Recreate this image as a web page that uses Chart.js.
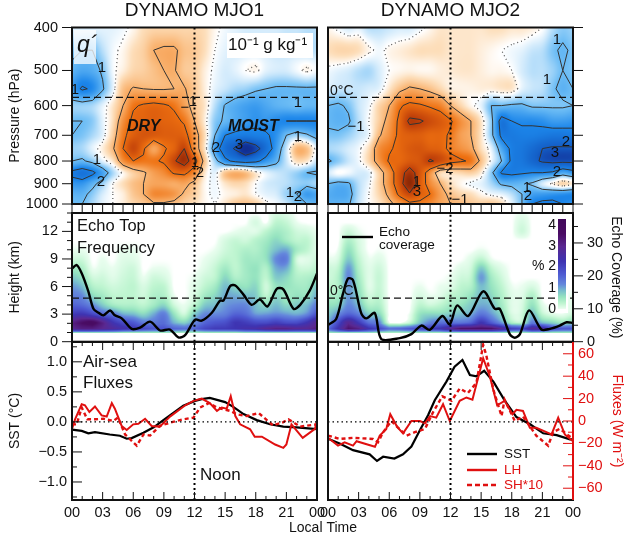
<!DOCTYPE html>
<html><head><meta charset="utf-8">
<style>html,body{margin:0;padding:0;background:#fff;width:627px;height:542px;overflow:hidden}canvas{position:absolute;left:0;top:0}</style>
<script src="https://cdn.jsdelivr.net/npm/chart.js@4"></script></head><body>
<canvas id="c1" width="627" height="542"></canvas><canvas id="c2" width="627" height="542"></canvas>
<canvas id="c3" width="627" height="542"></canvas><canvas id="c4" width="627" height="542"></canvas>
<canvas id="c5" width="627" height="542"></canvas><canvas id="c6" width="627" height="542"></canvas>
<script>
// ---------- categories / ticks ----------
const hours=[0,1,2,3,4,5,6,7,8,9,10,11,12,13,14,15,16,17,18,19,20,21,22,23,24];
const hourTicks=[0,3,6,9,12,15,18,21,24];
const pressureLevels=[400,450,500,550,600,650,700,750,800,850,900,950,1000];
const pressureTicks=[400,500,600,700,800,900,1000];
const heightLevels=[0,0.9,1.0,1.4,2,3,4,5,6,7,8,9,10,11,12,13,14];
const heightTicks=[0,3,6,9,12];
const coverageTicks=[0,10,20,30];
const sstTicks=[-1,-0.5,0,0.5,1];
const fluxTicks=[-60,-40,-20,0,20,40,60];
const freezingPressure=[575,575];
const freezingHeight=[4.75,4.75];
const noonHour=[12,12];
const ends=[0,24];
// ---------- q' (10^-1 g/kg), rows = pressureLevels, cols = hours ----------
const qMjo1=[
[.2,.2,.2,.2,.2,.1,-.1,-.4,-.5,-.5,-.5,-.5,-.5,-.4,-.1,.1,.2,.3,.3,.3,.3,.4,.4,.5,.5],
[.8,1.0,1.0,.5,.1,-.1,-.4,-.6,-1.0,-1.1,-1.1,-.8,-.7,-.4,0,.2,.3,.3,.3,.3,.4,.4,.4,.5,.5],
[1.2,1.4,1.3,.9,.1,-.2,-.5,-.6,-.8,-1.0,-1.05,-.7,-.6,-.2,.1,.3,.2,0,-.1,.2,.3,.3,.1,-.1,.1],
[1.6,2.1,1.9,1.1,.2,-.8,-1.05,-1.0,-.95,-.95,-1.0,-1.05,-.7,-.2,.2,.4,.6,.7,.9,1.0,1.1,1.1,1.1,1.1,1.1],
[.7,.7,.6,.2,-.3,-1.0,-1.9,-2.1,-2.2,-2.1,-1.9,-1.3,-.7,-.3,.5,1.05,1.3,1.5,1.6,1.4,1.2,1.1,1.0,1.1,1.1],
[1.0,1.0,.8,.2,-.4,-1.5,-2.2,-2.3,-2.4,-2.3,-2.2,-1.9,-1.0,-.2,.8,1.1,1.4,1.6,1.8,1.7,1.9,2.0,2.0,2.0,2.0],
[1.0,.9,.6,.2,-.6,-1.8,-2.4,-2.6,-2.5,-2.4,-2.4,-2.3,-1.4,-.4,1.0,2.0,2.2,2.3,2.2,2.1,1.8,1.0,.7,.9,1.3],
[.7,.6,.2,-.2,-.9,-2.0,-2.9,-2.1,-1.2,-1.9,-2.3,-3.0,-1.5,-.3,1.5,2.6,3.1,3.7,3.3,2.6,1.6,.4,-.9,-.8,.2],
[1.0,1.1,.8,.2,-.3,-1.5,-2.0,-1.9,-1.9,-2.1,-2.9,-3.5,-2.4,-.7,.7,1.8,2.2,2.4,2.2,1.7,1.2,.4,-.4,-.3,.4],
[2.2,2.5,2.2,1.5,.6,-.1,-.6,-.9,-1.3,-1.6,-2.1,-2.2,-1.6,-.3,.2,-.7,-1.0,-.8,-.2,.2,.4,.5,.7,1.0,1.1],
[1.7,1.7,1.2,.7,0,-.4,-.8,-1.0,-1.2,-1.2,-1.1,-1.2,-.8,-.1,.1,-.3,-.5,-.4,0,.3,.4,.5,.7,.8,.6],
[1.2,1.2,.8,.3,0,-.2,-.7,-1.0,-1.6,-1.6,-1.4,-.9,-.6,-.1,.1,-.1,-.2,-.3,0,.2,.3,.7,1.0,1.6,1.4],
[1.0,1.0,.6,.2,0,-.2,-.5,-.7,-.9,-.9,-.8,-.6,-.4,-.1,0,-.3,-.7,-.8,-.6,-.1,.1,.4,.9,1.0,1.2]];
const qMjo2=[
[-.1,.1,.3,.2,.5,.5,.4,.3,.3,.1,-.1,-.3,-.3,-.3,-.3,-.3,-.4,-.4,-.3,-.3,-.2,0,.5,.8,.7],
[-.4,-.5,-.5,-.4,-.1,.1,-.1,-.2,-.3,-.4,-.4,-.4,-.3,-.3,-.3,-.2,-.1,0,.1,.2,.4,.5,.9,1.1,.9],
[.1,.2,.3,.5,.6,.3,0,-.1,-.15,-.1,-.1,-.2,-.25,-.3,-.3,-.2,-.1,-.1,0,.3,.5,.5,.7,1.0,.9],
[.3,.4,.4,.4,.3,.2,-.3,-.8,-1.1,-1.0,-.8,-.5,-.2,-.15,-.15,-.2,-.2,-.3,-.3,.2,.4,.5,.9,1.2,1.0],
[1.0,1.1,.9,.4,.1,-.5,-1.0,-1.9,-2.2,-2.1,-1.9,-1.7,-1.0,-.5,-.1,.2,1.0,1.0,1.1,1.1,.9,.9,.9,.9,1.0],
[1.1,1.2,1.1,.5,0,-.6,-1.3,-2.2,-3.2,-3.1,-2.8,-2.5,-2.1,-1.5,-1.0,-.3,.8,2.4,2.0,1.9,1.9,1.8,1.6,1.6,1.7],
[.9,.9,.7,.4,.1,-.9,-1.5,-2.2,-2.4,-2.4,-2.2,-2.2,-1.9,-1.3,-1.0,-.3,.8,2.2,2.3,2.2,2.2,2.3,2.4,2.4,2.3],
[.6,.5,.3,.1,-.4,-1.5,-1.9,-2.2,-2.5,-2.6,-2.4,-2.3,-1.8,-1.5,-1.2,-.4,.2,1.4,2.2,2.4,2.7,3.0,3.1,3.1,3.1],
[1.1,.8,.4,.1,-.5,-1.4,-2.1,-2.2,-2.5,-2.6,-3.1,-2.8,-2.3,-2.1,-1.9,-.8,.1,1.0,2.2,2.4,2.8,3.1,3.2,3.2,3.2],
[.3,0,.1,.3,.2,-.6,-1.5,-2.6,-3.4,-2.6,-1.5,-.5,-.4,-.5,-.6,-.2,.8,2.1,2.2,2.1,2.0,2.0,1.9,1.4,1.7],
[1.0,1.2,1.1,.5,.1,-.6,-1.5,-2.6,-3.8,-2.5,-1.6,-1.0,-.4,-.1,.1,.2,.6,1.1,1.2,1.1,.9,.3,-.1,-.5,-.2],
[1.3,1.4,1.3,.5,0,-.5,-1.2,-2.2,-2.9,-2.4,-2.0,-1.3,-.8,-.5,-.4,-.1,.1,.2,.5,1.0,1.5,1.6,1.7,1.8,1.9],
[1.2,1.2,1.1,.4,0,-.3,-.8,-1.3,-1.8,-1.8,-1.6,-1.2,-1.0,-.9,-.7,-.6,-.7,-.4,.2,1.0,2.0,2.2,2.2,2.0,1.8]];
// ---------- echo top frequency (%), rows = heightLevels ----------
const echoMjo1=[
[0,0,0,0,0,0,0,0,0,0,0,0,0,0,0,0,0,0,0,0,0,0,0,0,0],
[0,0,0,0,0,0,0,0,0,0,0,0,0,0,0,0,0,0,0,0,0,0,0,0,0],
[.7,.7,.7,.7,.7,.6,.6,.6,.6,.6,.6,.5,.5,.6,.6,.6,.6,.7,.7,.7,.7,.7,.7,.7,.7],
[3.0,3.2,3.2,3.0,2.8,2.5,2.3,2.0,1.8,1.8,1.6,1.5,1.6,2.0,2.2,2.2,2.3,2.5,2.6,3.0,3.2,3.2,3.0,3.0,3.2],
[3.2,3.6,3.8,3.2,2.4,2.0,1.8,1.4,1.4,1.5,1.0,.8,1.2,1.6,1.8,1.9,2.3,2.2,2.0,2.0,2.2,2.0,2.0,2.4,3.0],
[2.2,2.3,2.0,1.6,1.4,1.0,.9,.7,1.0,1.3,.6,.2,.8,1.2,1.2,1.3,1.6,1.5,1.1,1.1,1.2,1.1,1.0,1.2,1.8],
[1.6,1.5,1.2,.8,.5,.4,.4,.3,.5,.7,.2,.05,.3,.8,.9,1.1,1.2,1.2,.9,.7,.9,.7,.8,.9,1.3],
[1.3,1.2,.7,.5,.3,.3,.3,.2,.4,.4,.05,0,.15,.5,.7,1.0,1.0,.9,.8,.3,.7,.5,.6,.6,1.0],
[1.1,.9,.4,.3,.2,.25,.3,.15,.3,.3,0,0,.1,.3,.5,.9,.7,.6,.7,.2,.6,.6,.5,.5,.8],
[.8,.6,.2,.2,.1,.2,.25,.05,.2,.15,0,0,.05,.2,.3,.7,.4,.5,.6,.3,.8,.7,.4,.4,.5],
[.5,.4,.05,.1,.05,.15,.2,0,.05,.05,0,0,0,.1,.25,.5,.3,.5,.6,.4,1.0,1.0,.3,.2,.3],
[.2,.2,0,.05,0,.1,.1,0,0,0,0,0,0,.05,.15,.3,.3,.5,.5,.6,1.2,1.3,.2,.1,.2],
[.05,.05,0,0,0,.05,.05,0,0,0,0,0,0,0,.05,.2,.3,.4,.4,.6,.9,1.0,.5,.3,.1],
[0,0,0,0,0,0,0,0,0,0,0,0,0,0,0,.15,.25,.2,.35,.5,.7,.5,.3,.3,.1],
[0,0,0,0,0,0,0,0,0,0,0,0,0,0,0,0,.05,.1,.1,.3,.5,.4,.2,.15,.05],
[0,0,0,0,0,0,0,0,0,0,0,0,0,0,0,0,0,0,.15,0,.3,.25,.05,0,0],
[0,0,0,0,0,0,0,0,0,0,0,0,0,0,0,0,0,0,0,0,.15,.1,0,0,0]];
const echoMjo2=[
[0,0,0,0,0,0,0,0,0,0,0,0,0,0,0,0,0,0,0,0,0,0,0,0,0],
[0,0,0,0,0,0,0,0,0,0,0,0,0,0,0,0,0,0,0,0,0,0,0,0,0],
[.6,.7,.7,.7,.7,.6,.5,.5,.6,.6,.6,.6,.7,.7,.7,.7,.7,.7,.6,.6,.7,.7,.6,.6,.6],
[1.5,2.4,3.5,3.2,2.4,2.0,1.5,1.6,1.8,2.0,2.2,2.4,3.0,3.6,3.6,3.6,3.6,3.0,2.2,2.0,3.0,2.8,2.0,1.8,1.8],
[1.0,2.0,3.0,2.3,1.5,1.3,.1,.05,.3,.9,1.3,1.5,1.5,1.5,1.7,2.4,1.8,1.2,.5,.4,1.4,1.0,.8,.6,.8],
[.8,1.2,1.6,1.3,.8,.7,0,0,.05,.6,.7,.7,.8,.9,1.0,1.4,1.1,.7,.15,.2,.9,.3,.1,.05,.2],
[.6,.7,1.2,.9,.4,.4,0,0,0,.3,.2,.3,.5,.6,.8,1.0,.9,.5,.1,.15,.6,.1,0,0,.1],
[.4,.5,1.1,.7,.2,.3,0,0,0,.15,.05,.1,.3,.4,.6,.9,.7,.4,.1,.1,.4,0,0,0,.05],
[.3,.4,1.1,.6,.1,.25,0,0,0,.05,0,.05,.1,.3,.4,.9,.6,.3,.05,.05,.15,0,0,0,0],
[.2,.4,1.2,.5,.1,.25,0,0,0,0,0,0,.05,.2,.3,1.1,.5,.2,0,0,0,0,0,0,0],
[.2,.3,1.1,.4,.1,.2,0,0,0,0,0,0,0,.1,.2,.8,.3,.1,0,0,0,0,0,0,0],
[.05,.15,.8,.3,.05,.1,0,0,0,0,0,0,0,0,.1,.3,.05,0,0,0,0,0,0,0,0],
[0,.05,.6,.2,0,.02,0,0,0,0,0,0,0,0,0,.05,0,0,0,0,0,0,0,0,0],
[0,0,.4,.15,0,0,0,0,0,0,0,0,0,0,0,0,0,0,0,0,0,0,0,0,0],
[0,0,.2,.05,0,0,0,0,0,0,0,0,0,0,0,0,0,0,0,.2,0,0,0,0,0],
[0,0,0,0,0,0,0,0,0,0,0,0,0,0,0,0,0,0,0,.15,0,0,0,0,0],
[0,0,0,0,0,0,0,0,0,0,0,0,0,0,0,0,0,0,0,.05,0,0,0,0,0]];
// ---------- echo coverage (%) ----------
const covHours1=[0,.46,.95,1.6,2.1,2.6,3.07,3.73,4.2,4.87,5.85,6.67,7.65,8.63,9.6,10.42,11.08,12.06,12.7,13.7,14.5,14.84,15.5,16,16.8,17.6,18.4,19.15,20.07,20.7,21.7,22.35,23.3,24];
const covValues1=[22.2,23.3,20.8,15.3,10,8.8,8,9.5,8,7.1,3.9,4.3,6.1,3.4,3.7,1.3,2,6.7,6.4,8.8,12.5,12.5,16.9,17.1,14.3,11.2,12.8,10.7,16.1,15.9,10,11.2,15.6,20.7];
const covHours2=[0,.8,1.47,1.96,2.45,3.27,3.76,4.58,5.23,7.03,8.17,9.15,9.97,11.2,11.93,12.65,13.73,15.2,16.34,16.83,17.8,18.3,18.8,19.7,20.9,21.73,22.7,23.37,24];
const covValues2=[5.1,6.9,14.6,19.2,18.7,8.5,7.1,8.7,.8,1.1,2.3,4.9,3.6,7.8,5.3,11,7.8,15.3,10,10,2.3,1.2,2.3,9.5,3.7,3.9,4.9,5.9,5.7];
// ---------- SST (degC) and fluxes (W m-2) ----------
const sstHours1=[0,.95,1.6,2.25,3.7,4.7,5.36,5.85,7,8,8.95,9.93,10.9,12.06,12.7,13.5,15,15.8,16.8,18.1,19.4,20.7,22,24];
const sstValues1=[-.13,-.15,-.19,-.17,-.21,-.23,-.28,-.27,-.18,-.09,.03,.15,.27,.35,.38,.40,.33,.25,.13,.03,-.04,-.08,-.09,-.12];
const lhHours1=[0,.3,.95,1.27,1.7,2.25,2.9,3.4,3.9,4.2,4.87,5.36,6,6.5,7.16,7.8,8.6,9.6,11.1,11.9,12.7,13.5,14.2,14.67,15.16,15.55,16,16.47,17.45,17.9,18.6,19.9,20.7,21,21.5,22.6,23.8,24];
const lhValues1=[-7,1.5,15,14,8,13,5,4,16,11,-4.5,-8,-3,-2.4,2,-4.4,-5,3.9,14,18,20,16,9,12,11,22,4.4,-3,-7.4,-14,-14,-21,-24,-21,-3,-15,-7,0];
const shHours1=[0,.46,.95,1.5,2.25,3.07,4.05,4.5,5.2,6.34,7,7.65,8.6,9.6,10.9,11.9,12.55,13.4,14.2,15.5,16.15,17.1,18.3,19.7,20.7,21.2,22.35,24];
const shValues1=[-3,-3,12,1.5,1.5,2,0,3,-12,-22,-12,-13,-4.4,-1.5,1.5,3,12,16,12,9,6,4.4,7,-4,-1,1.5,-5,-3];
const sstHours2=[0,1.14,2.45,4.08,4.8,5.4,6.5,7.35,8.17,9,9.8,10.46,11.6,12.4,13.17,13.9,14.54,15.3,16.2,17.3,18.46,19.8,21.08,22.4,23.7,24];
const sstValues2=[-.28,-.36,-.47,-.54,-.65,-.58,-.61,-.54,-.41,-.14,.11,.36,.67,.92,1.03,.78,.76,.85,.67,.36,.08,-.04,-.19,-.22,-.29,-.29];
const lhHours2=[0,.98,1.63,2.45,2.8,4.6,5.07,5.7,6.1,6.76,7.35,8.17,9,9.5,10,10.6,11.27,11.93,12.9,13.56,14.15,15.2,15.85,16.57,17.3,18.07,18.46,19.1,19.77,20.4,21.4,21.9,22.55,23.2,24];
const lhValues2=[-15,-22,-19,-22,-18,-23,-13,-7.4,6,-5,-11,0,0,-2,4.4,3,15,0,18,21,19,56,40,14,18,6,10,9,-6,-6,-10,-12,3,-12,-18];
const shHours2=[0,1.14,2.45,4.4,4.9,5.4,6.2,6.86,7.7,8.5,9.5,10.3,11.2,12.1,12.9,13.7,14.54,15.2,15.5,16.2,17,17.3,18.3,19.1,20.4,21.57,22.05,22.7,24];
const shValues2=[-13,-16,-15,-16,-19,-10,0,-6,-13,-10,-7,8,22,18,29,25,34,68,59,28,4.4,19,0,4,-13,-22,-10,-7,-16];

const FONT='"Liberation Sans",Arial,sans-serif';
const W=627,H=542;
const COLS={L:[72,317],R:[328,573]};
const ROWS={a:[27.5,204],b:[213,341.7],c:[342,500]};

const qStops=[[-4,[128,36,4]],[-3.5,[160,48,8]],[-3,[196,68,10]],[-2,[238,112,16]],[-1,[249,178,110]],[-.4,[253,222,186]],[0,[255,255,255]],[.4,[200,230,251]],[1,[109,189,245]],[2,[28,134,234]],[3,[20,96,200]],[3.5,[18,51,154]],[4,[16,40,128]]];
const echoStops=[[0,[255,255,255]],[.05,[232,253,238]],[.3,[190,245,208]],[.6,[150,228,192]],[.9,[120,190,205]],[1.2,[100,135,220]],[1.7,[78,90,210]],[2.3,[62,52,178]],[3,[90,40,145]],[3.6,[74,12,100]],[4.5,[64,8,88]]];
function colorAt(stops,v){
  if(v<=stops[0][0])return stops[0][1];
  for(let i=1;i<stops.length;i++){if(v<=stops[i][0]){const a=stops[i-1],b=stops[i],f=(v-a[0])/(b[0]-a[0]);
    return [a[1][0]+(b[1][0]-a[1][0])*f,a[1][1]+(b[1][1]-a[1][1])*f,a[1][2]+(b[1][2]-a[1][2])*f];}}
  return stops[stops.length-1][1];
}
function cr(p0,p1,p2,p3,t){return .5*((2*p1)+(-p0+p2)*t+(2*p0-5*p1+4*p2-p3)*t*t+(-p0+3*p1-3*p2+p3)*t*t*t);}
function sample(g,ri,ci,smooth){
  const R=g.length-1,C=g[0].length-1;
  const r0=Math.max(0,Math.min(R-1,Math.floor(ri))),c0=Math.max(0,Math.min(C-1,Math.floor(ci)));
  const tr=ri-r0,tc=ci-c0;
  if(!smooth){return (g[r0][c0]*(1-tc)+g[r0][c0+1]*tc)*(1-tr)+(g[r0+1][c0]*(1-tc)+g[r0+1][c0+1]*tc)*tr;}
  const row=i=>{const r=g[Math.max(0,Math.min(R,i))];const at=j=>r[Math.max(0,Math.min(C,j))];return cr(at(c0-1),at(c0),at(c0+1),at(c0+2),tc);};
  return cr(row(r0-1),row(r0),row(r0+1),row(r0+2),tr);
}
function fracIndex(levels,v,log){
  for(let i=0;i<levels.length-1;i++){if(v<=levels[i+1]||i===levels.length-2){
    const a=levels[i],b=levels[i+1];
    return i+(log?Math.log(v/a)/Math.log(b/a):(v-a)/(b-a));}}
}
function drawField(chart,p){
  const {ctx,chartArea:A,scales:{x,y}}=chart;
  const x0=Math.round(A.left),y0=Math.round(A.top),w=Math.round(A.right)-x0,h=Math.round(A.bottom)-y0;
  const img=ctx.createImageData(w,h);
  for(let j=0;j<h;j++){const yv=y.getValueForPixel(y0+j+.5),ri=fracIndex(p.levels,yv,p.log);
    for(let i=0;i<w;i++){const ci=x.getValueForPixel(x0+i+.5);
      const c=colorAt(p.stops,sample(p.grid,ri,ci,ri>=p.smoothFrom));const k=(j*w+i)*4;
      img.data[k]=c[0];img.data[k+1]=c[1];img.data[k+2]=c[2];img.data[k+3]=255;}}
  ctx.putImageData(img,x0,y0);
}
function drawContours(chart,p){
  const {ctx,chartArea:A,scales:{x,y}}=chart,g=p.grid,L=p.levels;
  ctx.save();ctx.beginPath();ctx.rect(A.left,A.top,A.right-A.left,A.bottom-A.top);ctx.clip();
  for(const lev of [-4,-3,-2,-1,0,1,2,3,4]){
    ctx.beginPath();
    for(let r=0;r<L.length-1;r++)for(let c=0;c<hours.length-1;c++){
      const q=[[c,r],[c+1,r],[c+1,r+1],[c,r+1]],v=q.map(o=>g[o[1]][o[0]]),pts=[];
      for(let e=0;e<4;e++){const a=v[e],b=v[(e+1)%4];
        if((a<lev)!==(b<lev)){const t=(lev-a)/(b-a),n=q[e],m=q[(e+1)%4];
          const hh=hours[n[0]]+(hours[m[0]]-hours[n[0]])*t;
          const pr=L[n[1]]*Math.pow(L[m[1]]/L[n[1]],t);
          pts.push([x.getPixelForValue(hh),y.getPixelForValue(pr)]);}}
      for(let s=0;s+1<pts.length;s+=2){ctx.moveTo(pts[s][0],pts[s][1]);ctx.lineTo(pts[s+1][0],pts[s+1][1]);}
    }
    if(lev===0){ctx.setLineDash([1,3]);ctx.lineWidth=1.2;ctx.strokeStyle='#555';}
    else{ctx.setLineDash([]);ctx.lineWidth=1;ctx.strokeStyle='#333';}
    ctx.stroke();
  }
  ctx.restore();
}
function tick(ctx,x1,y1,x2,y2,color,lw){ctx.beginPath();ctx.strokeStyle=color||'#111';ctx.lineWidth=lw||1;ctx.moveTo(x1,y1);ctx.lineTo(x2,y2);ctx.stroke();}

const panelPlugin={id:'panel',
  beforeDatasetsDraw(chart){const p=chart.options.plugins.panel;
    if(p.field){drawField(chart,p.field);if(p.field.contours)drawContours(chart,p.field);}},
  afterDatasetsDraw(chart){const p=chart.options.plugins.panel,ctx=chart.ctx;
    ctx.save();
    if(p.colorbar){const b=p.colorbar;
      ctx.fillStyle='#fff';ctx.fillRect(b.x-2,b.top-1,b.w+4,b.bottom-b.top+3);
      for(let yy=b.top;yy<b.bottom;yy++){const v=(b.zero-yy)/b.unit,c=colorAt(echoStops,v);
        ctx.fillStyle=`rgb(${c[0]|0},${c[1]|0},${c[2]|0})`;ctx.fillRect(b.x,yy,b.w,1);}
    }
    for(const s of p.lines||[]){ctx.beginPath();ctx.setLineDash(s.dash||[]);ctx.strokeStyle=s.c;ctx.lineWidth=s.w;ctx.moveTo(s.x1,s.y);ctx.lineTo(s.x2,s.y);ctx.stroke();}
    ctx.setLineDash([]);
    for(const t of p.texts||[]){
      ctx.font=t.f||`15px ${FONT}`;ctx.textAlign=t.a||'left';ctx.textBaseline='middle';
      if(t.bg){ctx.fillStyle=t.bg[4];ctx.fillRect(t.bg[0],t.bg[1],t.bg[2],t.bg[3]);}
      ctx.fillStyle=t.c||'#111';ctx.fillText(t.t,t.x,t.y);}
    ctx.restore();
  },
  afterDraw(chart){const p=chart.options.plugins.panel,ctx=chart.ctx,A=chart.chartArea,{x}=chart.scales;
    ctx.save();
    if(p.xTicks==='ladder'){for(const h of hours){const px=x.getPixelForValue(h);tick(ctx,px,A.bottom,px,A.bottom+9);}}
    if(p.xTicks==='inward'){for(const h of hours){const px=x.getPixelForValue(h),l=h%3===0?8:4;
      tick(ctx,px,A.top,px,A.top+l);tick(ctx,px,A.bottom,px,A.bottom-l);}}
    for(const t of p.yTicks||[]){const sc=chart.scales[t.axis],base=t.side==='left'?A.left:A.right;
      for(const v of t.values){const py=sc.getPixelForValue(v),l=(t.major.includes(v)?10:5)*t.dir;
        tick(ctx,base,py,base+l,py,t.color);}}
    ctx.strokeStyle='#111';ctx.lineWidth=2;ctx.setLineDash([]);
    ctx.strokeRect(A.left,A.top,A.right-A.left,A.bottom-A.top);
    if(p.redRight)tick(ctx,A.right,A.top,A.right,A.bottom,'#e01010',2);
    ctx.restore();
  }
};
Chart.register(panelPlugin);

function range(a,b,s){const o=[];for(let v=a;v<=b+1e-9;v+=s)o.push(Math.round(v*100)/100);return o;}
function xy(xs,ys){return xs.map((v,i)=>({x:v,y:ys[i]}));}
function gridPoints(levels,grid){const o=[];levels.forEach((l,r)=>hours.forEach((h,c)=>o.push({x:h,y:l,v:grid[r][c]})));return o;}
const minus=s=>String(s).replace('-','\u2212');

function axisFit(width){return s=>{s.width=width;};}
function makeChart(id,col,row,cfg){
  const [l,r]=COLS[col],[t,b]=ROWS[row];
  const shownRight=cfg.y1&&cfg.y1.display!==false;
  const yOpt=Object.assign({type:'linear',position:'left',grid:{display:false,drawTicks:false},border:{display:false},afterFit:axisFit(l)},cfg.y);
  const scales={
    x:{type:'linear',min:0,max:24,grid:{display:false,drawTicks:false},border:{display:false},
      afterBuildTicks:s=>{s.ticks=hourTicks.map(value=>({value}));},
      afterFit:s=>{s.height=H-b;},
      ticks:{display:cfg.xLabels===true,color:'#111',font:{size:14.5,family:FONT},padding:4,maxRotation:0,autoSkip:false,
        callback:v=>String(v%24).padStart(2,'0')}},
    y:yOpt};
  if(cfg.y1)scales.y1=Object.assign({type:'linear',position:'right',grid:{display:false,drawTicks:false},border:{display:false},afterFit:axisFit(shownRight?W-r:0)},cfg.y1);
  const opts={responsive:false,animation:false,events:[],
    layout:{padding:{left:0,top:cfg.title?0:t,right:shownRight?0:W-r,bottom:0}},
    scales,
    plugins:{legend:{display:false},tooltip:{enabled:false},
      title:cfg.title?{display:true,text:cfg.title,fullSize:false,color:'#111',font:{size:19,family:FONT,weight:'normal'},padding:{top:-1,bottom:t-21.8}}:{display:false},
      panel:cfg.panel}};
  return new Chart(document.getElementById(id),{type:'scatter',data:{datasets:cfg.datasets},options:opts});
}
function lineDs(label,data,color,w,dash,axis,tension){return {type:'line',label,data,yAxisID:axis||'y',borderColor:color,borderWidth:w,borderDash:dash||[],pointRadius:0,tension:tension||0,fill:false,showLine:true,clip:false};}
const tickFont={size:14.5,family:FONT};
function pressureAxis(labels){return {type:'logarithmic',min:400,max:1000,reverse:true,
  afterBuildTicks:s=>{s.ticks=pressureTicks.map(value=>({value}));},
  ticks:{display:labels,color:'#111',font:tickFont,padding:14,autoSkip:false,callback:v=>String(v)},
  title:labels?{display:true,text:'Pressure (hPa)',color:'#111',font:{size:14,family:FONT},padding:{top:7,bottom:0}}:{display:false}};}
function heightAxis(labels){return {min:0,max:14,
  afterBuildTicks:s=>{s.ticks=heightTicks.map(value=>({value}));},
  ticks:{display:labels,color:'#111',font:tickFont,padding:14,autoSkip:false,callback:v=>String(v)},
  title:labels?{display:true,text:'Height (km)',color:'#111',font:{size:14,family:FONT},padding:{top:7,bottom:0}}:{display:false}};}
function sstAxis(labels){return {min:-1.3,max:1.33,
  afterBuildTicks:s=>{s.ticks=sstTicks.map(value=>({value}));},
  ticks:{display:labels,color:'#111',font:tickFont,padding:5,autoSkip:false,callback:v=>minus(v.toFixed(1))},
  title:labels?{display:true,text:'SST (\u00B0C)',color:'#111',font:{size:14,family:FONT},padding:{top:7,bottom:0}}:{display:false}};}
function covAxis(show){return {display:show,min:0,max:39.1,
  afterBuildTicks:s=>{s.ticks=coverageTicks.map(value=>({value}));},
  ticks:{color:'#111',font:tickFont,padding:14,autoSkip:false,callback:v=>String(v)},
  title:{display:show,text:'Echo Coverage (%)',color:'#111',font:{size:14,family:FONT},padding:{top:3,bottom:0}}};}
function fluxAxis(show){return {display:show,min:-70.5,max:70.5,
  afterBuildTicks:s=>{s.ticks=fluxTicks.map(value=>({value}));},
  ticks:{color:'#e01010',font:tickFont,padding:5,autoSkip:false,callback:v=>minus(v)},
  title:{display:show,text:'Fluxes (W m\u207B\u00B2)',color:'#e01010',font:{size:14,family:FONT},padding:{top:2,bottom:0}}};}
const noonDs=axisY=>lineDs('Noon',xy(noonHour,axisY),'#000',2,[2,3]);
const clabel=(t,x,y)=>({t,x,y,a:'center',f:`15px ${FONT}`,c:'#111'});

// Top row
makeChart('c1','L','a',{title:'DYNAMO MJO1',y:pressureAxis(true),
  datasets:[{label:"q'",data:gridPoints(pressureLevels,qMjo1),pointRadius:0,showLine:false},
    lineDs('0\u00B0C',xy(ends,freezingPressure),'#111',1.2,[7,4]),noonDs([400,1000])],
  panel:{xTicks:'ladder',
    field:{grid:qMjo1,levels:pressureLevels,log:true,stops:qStops,smoothFrom:0,contours:true},
    yTicks:[{axis:'y',side:'left',dir:-1,values:pressureTicks,major:pressureTicks}],
    texts:[{t:'q\u00B4',x:77,y:46,f:`italic 23px ${FONT}`,bg:[74,30,22,34,'rgba(255,255,255,.75)']},
      {t:'10\u207B\u00B9 g kg\u207B\u00B9',x:228,y:45,f:`17px ${FONT}`,bg:[227,33,86,25,'#fff']},
      {t:'DRY',x:127,y:127,f:`italic bold 16px ${FONT}`},{t:'MOIST',x:228,y:127,f:`italic bold 16px ${FONT}`},
      clabel('1',102,68),clabel('1',75,90),clabel('1',193,102),clabel('\u2212',185,108),clabel('1',298,103),
      clabel('2',216,148),clabel('3',239,145),clabel('1',298,137),clabel('1',97,160),clabel('2',101,182),
      clabel('2',200,173),clabel('1',195,163),clabel('2',298,197),clabel('1',290,193)]}});
makeChart('c2','R','a',{title:'DYNAMO MJO2',y:pressureAxis(false),
  datasets:[{label:"q'",data:gridPoints(pressureLevels,qMjo2),pointRadius:0,showLine:false},
    lineDs('0\u00B0C',xy(ends,freezingPressure),'#111',1.2,[7,4]),noonDs([400,1000])],
  panel:{xTicks:'ladder',
    field:{grid:qMjo2,levels:pressureLevels,log:true,stops:qStops,smoothFrom:0,contours:true},
    yTicks:[{axis:'y',side:'right',dir:1,values:pressureTicks,major:pressureTicks}],
    texts:[{t:'0\u00B0C',x:330,y:91,f:`14px ${FONT}`},
      clabel('1',557,40),clabel('1',547,80),clabel('\u22121',356,127),clabel('2',566,142),clabel('3',555,153),
      clabel('2',557,172),clabel('1',527,188),clabel('2',528,196),clabel('\u22122',445,169),clabel('1',417,182),
      clabel('3',417,192),clabel('\u22121',460,200)]}});
// Middle row
makeChart('c3','L','b',{y:heightAxis(true),y1:covAxis(false),
  datasets:[{label:'Echo Top Frequency',data:gridPoints(heightLevels,echoMjo1),pointRadius:0,showLine:false},
    lineDs('0\u00B0C',xy(ends,freezingHeight),'#111',1.2,[7,4]),noonDs([0,14]),
    lineDs('Echo coverage',xy(covHours1,covValues1),'#000',2.4,[],'y1',.3)],
  panel:{field:{grid:echoMjo1,levels:heightLevels,log:false,stops:echoStops,smoothFrom:4},
    yTicks:[{axis:'y',side:'left',dir:-1,values:range(0,14,1),major:heightTicks}],
    texts:[{t:'Echo Top',x:77,y:226,f:`16.5px ${FONT}`},{t:'Frequency',x:77,y:248,f:`16.5px ${FONT}`}]}});
makeChart('c4','R','b',{y:heightAxis(false),y1:covAxis(true),
  datasets:[{label:'Echo Top Frequency',data:gridPoints(heightLevels,echoMjo2),pointRadius:0,showLine:false},
    lineDs('0\u00B0C',xy(ends,freezingHeight),'#111',1.2,[7,4]),noonDs([0,14]),
    lineDs('Echo coverage',xy(covHours2,covValues2),'#000',2.4,[],'y1',.3)],
  panel:{field:{grid:echoMjo2,levels:heightLevels,log:false,stops:echoStops,smoothFrom:4},
    colorbar:{x:558,w:8,top:219,bottom:311,zero:309,unit:21},
    yTicks:[{axis:'y1',side:'right',dir:1,values:range(0,35,5),major:coverageTicks}],
    lines:[{x1:342,x2:373,y:237,c:'#000',w:2.4}],
    texts:[{t:'0\u00B0C',x:330,y:291,f:`14px ${FONT}`},
      {t:'Echo',x:379,y:232,f:`13.6px ${FONT}`},{t:'coverage',x:379,y:245,f:`13.6px ${FONT}`},
      {t:'%',x:532,y:266,f:`14px ${FONT}`},
      {t:'4',x:556,y:225,a:'right',f:`14px ${FONT}`},{t:'3',x:556,y:246,a:'right',f:`14px ${FONT}`},
      {t:'2',x:556,y:266,a:'right',f:`14px ${FONT}`},{t:'1',x:556,y:288,a:'right',f:`14px ${FONT}`},
      {t:'0',x:556,y:309,a:'right',f:`14px ${FONT}`}]}});
// Bottom row
makeChart('c5','L','c',{y:sstAxis(true),y1:fluxAxis(false),xLabels:true,
  datasets:[lineDs('Zero',xy(ends,[0,0]),'#000',1.4,[1.5,3]),noonDs([-1.3,1.33]),
    lineDs('SH*10',xy(shHours1,shValues1),'#e01010',2.4,[4,3],'y1'),
    lineDs('LH',xy(lhHours1,lhValues1),'#e01010',2,[],'y1'),
    lineDs('SST',xy(sstHours1,sstValues1),'#000',2.2,[])],
  panel:{xTicks:'inward',
    yTicks:[{axis:'y',side:'left',dir:1,values:range(-1.25,1.25,.25),major:sstTicks}],
    texts:[{t:'Air-sea',x:83,y:362,f:`17px ${FONT}`},{t:'Fluxes',x:83,y:383,f:`17px ${FONT}`},
      {t:'Noon',x:200,y:475,f:`17px ${FONT}`},{t:'Local Time',x:323,y:528,a:'center',f:`14px ${FONT}`}]}});
makeChart('c6','R','c',{y:sstAxis(false),y1:fluxAxis(true),xLabels:true,
  datasets:[lineDs('Zero',xy(ends,[0,0]),'#000',1.4,[1.5,3]),noonDs([-1.3,1.33]),
    lineDs('SH*10',xy(shHours2,shValues2),'#e01010',2.4,[4,3],'y1'),
    lineDs('LH',xy(lhHours2,lhValues2),'#e01010',2,[],'y1'),
    lineDs('SST',xy(sstHours2,sstValues2),'#000',2.2,[])],
  panel:{xTicks:'inward',redRight:true,
    yTicks:[{axis:'y1',side:'right',dir:-1,values:range(-70,70,10),major:fluxTicks,color:'#e01010'}],
    lines:[{x1:467,x2:497,y:454,c:'#000',w:2.4},{x1:467,x2:497,y:470,c:'#e01010',w:2.4},{x1:467,x2:497,y:485,c:'#e01010',w:2.4,dash:[5,3]}],
    texts:[{t:'SST',x:504,y:454,f:`13.5px ${FONT}`},{t:'LH',x:504,y:470,f:`13.5px ${FONT}`,c:'#e01010'},{t:'SH*10',x:504,y:485,f:`13.5px ${FONT}`,c:'#e01010'}]}});
</script></body></html>
